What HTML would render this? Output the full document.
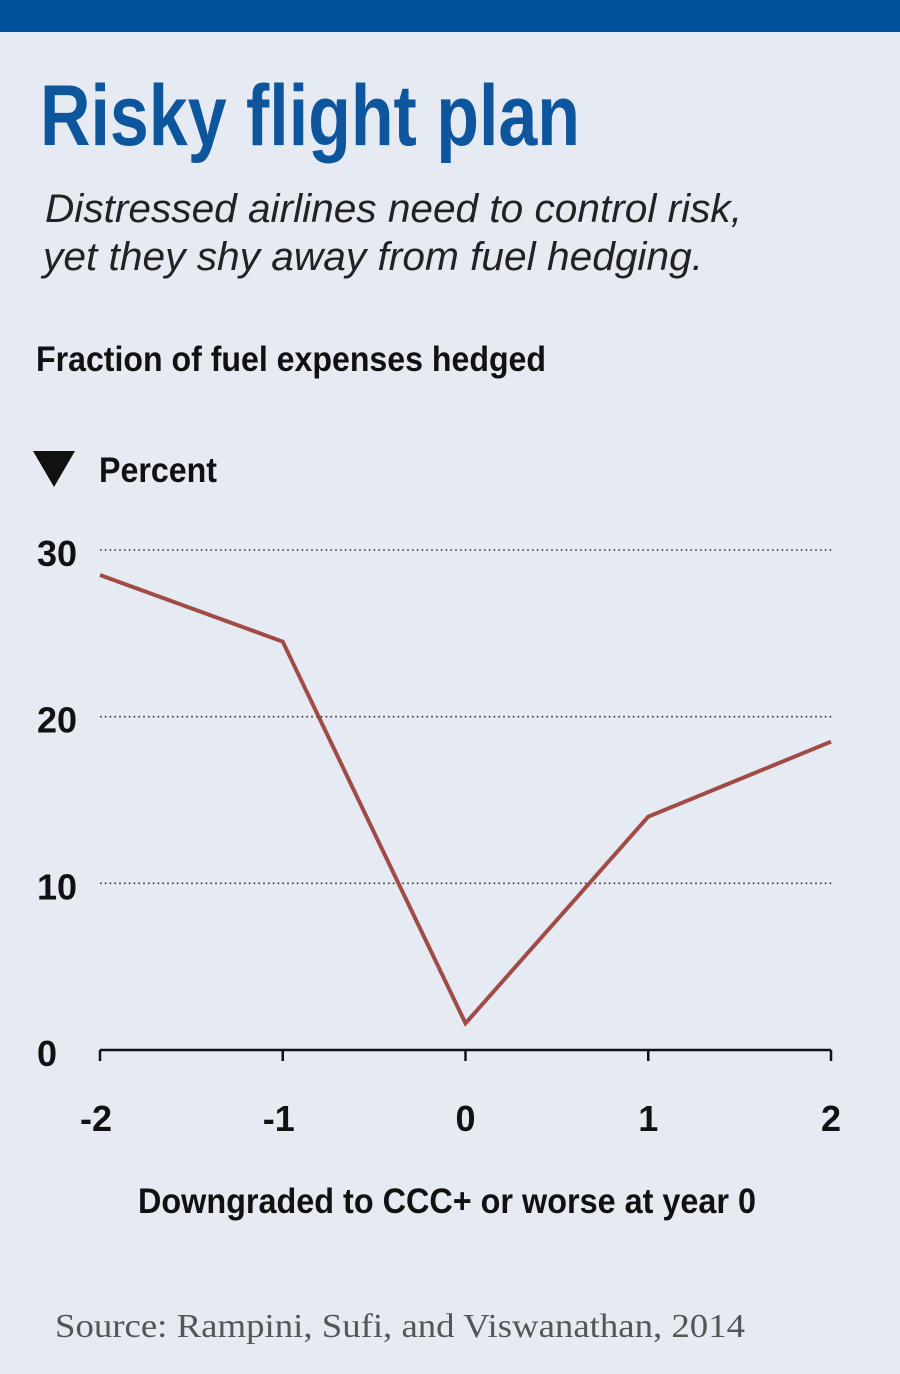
<!DOCTYPE html>
<html><head><meta charset="utf-8"><style>
html,body{margin:0;padding:0;background:#e6eaf3;}
svg{display:block;}
</style></head><body>
<svg width="900" height="1374" viewBox="0 0 900 1374">
<rect x="0" y="0" width="900" height="1374" fill="#e6eaf3"/>
<rect x="0" y="0" width="900" height="32" fill="#00539b"/>
<text x="40" y="145" font-family="'Liberation Sans Narrow','Liberation Sans',sans-serif" font-weight="bold" font-size="86" fill="#0d569e" textLength="540" lengthAdjust="spacingAndGlyphs">Risky flight plan</text>
<text x="45" y="222" font-family="'Liberation Sans',sans-serif" font-style="italic" font-size="40" fill="#222" textLength="697" lengthAdjust="spacingAndGlyphs">Distressed airlines need to control risk,</text>
<text x="43" y="270" font-family="'Liberation Sans',sans-serif" font-style="italic" font-size="40" fill="#222" textLength="660" lengthAdjust="spacingAndGlyphs">yet they shy away from fuel hedging.</text>
<text x="36" y="371" font-family="'Liberation Sans Narrow','Liberation Sans',sans-serif" font-weight="bold" font-size="35" fill="#111" textLength="510" lengthAdjust="spacingAndGlyphs">Fraction of fuel expenses hedged</text>
<polygon points="33,451 75,451 54,487" fill="#111"/>
<text x="99" y="482" font-family="'Liberation Sans Narrow','Liberation Sans',sans-serif" font-weight="bold" font-size="35" fill="#111" textLength="118" lengthAdjust="spacingAndGlyphs">Percent</text>
<g id="grid"></g>
<g id="axis"></g>
<g id="plot"></g>
<text x="447" y="1213" text-anchor="middle" font-family="'Liberation Sans Narrow','Liberation Sans',sans-serif" font-weight="bold" font-size="35" fill="#111" textLength="618" lengthAdjust="spacingAndGlyphs">Downgraded to CCC+ or worse at year 0</text>
<text x="55" y="1337" font-family="'Liberation Serif',serif" font-size="34" fill="#555" textLength="690" lengthAdjust="spacingAndGlyphs">Source: Rampini, Sufi, and Viswanathan, 2014</text>
</svg>
<script>
const categories = [-2, -1, 0, 1, 2];
const hedgedPct = [28.5, 24.5, 1.6, 14.0, 18.5];
const yTicks = [0, 10, 20, 30];
const xTickLabels = ["-2", "-1", "0", "1", "2"];

const NS = "http://www.w3.org/2000/svg";
function xs(v){ return 100 + (v + 2) * (731 / 4); }
function ys(v){ return 1050 - v * (500 / 30); }
function mk(tag, attrs, parent){
  const e = document.createElementNS(NS, tag);
  for (const k in attrs) e.setAttribute(k, attrs[k]);
  parent.appendChild(e);
  return e;
}
const grid = document.getElementById('grid');
const axis = document.getElementById('axis');
const plot = document.getElementById('plot');
const font = "'Liberation Sans Narrow','Liberation Sans',sans-serif";

yTicks.forEach(t => {
  if (t > 0) {
    const g = mk('line', {x1:100, x2:833, y1:ys(t), y2:ys(t), stroke:'#333', 'stroke-width':1.6, 'stroke-dasharray':'1.6 3.2'}, grid);
    
    
  }
  const lbl = mk('text', {x:37, y:ys(t) + 16, 'font-family':font, 'font-weight':'bold', 'font-size':36, fill:'#111'}, axis);
  lbl.textContent = String(t);
  
  
});

const base = mk('line', {x1:100, x2:831, y1:1050, y2:1050, stroke:'#111', 'stroke-width':2.5}, axis);



categories.forEach((c, i) => {
  const tk = mk('line', {x1:xs(c), x2:xs(c), y1:1050, y2:1061, stroke:'#111', 'stroke-width':2.5}, axis);
  
  
  const lb = mk('text', {x:xs(c) - (c < 0 ? 4 : 0), y:1131, 'text-anchor':'middle', 'font-family':font, 'font-weight':'bold', 'font-size':36, fill:'#111'}, axis);
  lb.textContent = xTickLabels[i];
  
  
});

const pts = categories.map((c, i) => xs(c) + ',' + ys(hedgedPct[i])).join(' ');
const line = mk('polyline', {points:pts, fill:'none', stroke:'#a14b46', 'stroke-width':4, 'stroke-linejoin':'miter'}, plot);


</script>
</body></html>
